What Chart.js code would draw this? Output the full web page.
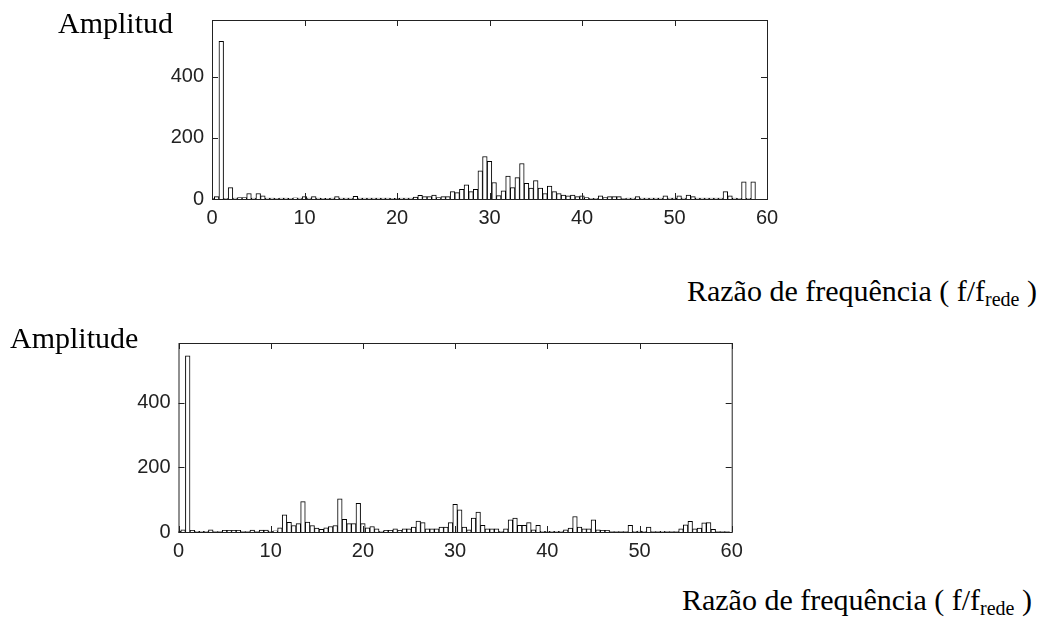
<!DOCTYPE html>
<html>
<head>
<meta charset="utf-8">
<script src="https://cdn.jsdelivr.net/npm/chart.js@4.4.1/dist/chart.umd.min.js"></script>
<style>
  html, body { margin: 0; padding: 0; background: #fff; }
  #page { position: relative; width: 1045px; height: 618px; overflow: hidden; }
  canvas { position: absolute; left: 0; }
  .lbl { position: absolute; font-family: 'Liberation Serif', 'Times New Roman', serif; font-size: 30px; color: #000; white-space: nowrap; line-height: 1; z-index: 2; }
  .lbl sub { font-size: 20px; vertical-align: -5px; line-height: 0; }
</style>
</head>
<body>
<div id="page">
  <canvas id="topChart" width="1045" height="239" style="top:0"></canvas>
  <canvas id="bottomChart" width="1045" height="252" style="top:320px"></canvas>
  <div class="lbl" style="left:58px; top:8px">Amplitud</div>
  <div class="lbl" style="right:8px; top:276px">Razão de frequência ( f/f<sub>rede</sub> )</div>
  <div class="lbl" style="left:10px; top:323px">Amplitude</div>
  <div class="lbl" style="right:13px; top:585px">Razão de frequência ( f/f<sub>rede</sub> )</div>
</div>

<script>
// harmonic order (f / f_rede), one bin every 0.5
const ratios = Array.from({ length: 120 }, (_, i) => i / 2);

const xTicks = [0, 10, 20, 30, 40, 50, 60];
const yTicks = [0, 200, 400];
const yMax = 585;

// upper spectrum
const amplitudeTop = [
  2, 8, 515, 2, 37, 3, 5, 5, 18, 3,
  18, 10, 3, 3, 2, 3, 3, 2, 4, 3,
  8, 3, 8, 3, 2, 2, 3, 8, 3, 3,
  3, 9, 3, 3, 3, 3, 3, 3, 3, 2,
  2, 3, 3, 3, 6, 12, 8, 8, 13, 5,
  8, 8, 24, 21, 32, 46, 24, 32, 92, 139,
  123, 54, 11, 27, 75, 37, 70, 116, 51, 36,
  60, 36, 18, 42, 24, 18, 13, 10, 13, 8,
  10, 5, 2, 2, 10, 5, 8, 8, 8, 1,
  3, 3, 8, 3, 3, 3, 3, 3, 10, 3,
  3, 10, 3, 13, 8, 3, 3, 3, 3, 3,
  3, 24, 10, 3, 2, 56, 2, 56, 0, 0
];

// lower spectrum
const amplitudeBottom = [
  2, 7, 545, 5, 2, 2, 2, 7, 1, 1,
  5, 5, 5, 5, 1, 1, 6, 1, 6, 6,
  2, 4, 13, 53, 30, 20, 26, 94, 31, 20,
  12, 8, 13, 17, 20, 103, 39, 26, 26, 89,
  26, 13, 17, 10, 2, 5, 5, 10, 5, 10,
  10, 15, 34, 29, 10, 10, 10, 15, 15, 29,
  86, 69, 15, 7, 43, 62, 21, 10, 10, 10,
  2, 10, 38, 43, 21, 21, 29, 7, 21, 2,
  2, 2, 2, 2, 7, 12, 48, 15, 10, 10,
  38, 7, 5, 5, 1, 1, 1, 1, 21, 2,
  3, 2, 15, 1, 1, 2, 1, 1, 1, 10,
  22, 33, 10, 12, 28, 29, 8, 1, 1, 1
];

const tickFont = { family: "'Liberation Sans Narrow', 'Liberation Sans', Arial, sans-serif", size: 20 };

// MATLAB-style box with inward ticks on all four sides
const boxAxes = {
  id: 'boxAxes',
  afterDatasetsDraw(chart) {
    const { ctx, chartArea: a, scales } = chart;
    const len = 6;
    ctx.save();
    ctx.strokeStyle = '#222';
    ctx.lineWidth = 1;
    ctx.strokeRect(a.left + 0.5, a.top + 0.5, a.right - a.left, a.bottom - a.top);
    ctx.beginPath();
    xTicks.forEach(v => {
      const px = Math.round(scales.x.getPixelForValue(v)) + 0.5;
      ctx.moveTo(px, a.bottom); ctx.lineTo(px, a.bottom - len);
      ctx.moveTo(px, a.top); ctx.lineTo(px, a.top + len);
    });
    yTicks.forEach(v => {
      const py = Math.round(scales.y.getPixelForValue(v)) + 0.5;
      ctx.moveTo(a.left, py); ctx.lineTo(a.left + len, py);
      ctx.moveTo(a.right, py); ctx.lineTo(a.right - len, py);
    });
    ctx.stroke();
    ctx.restore();
  }
};

function makeSpectrum(canvasId, values, pad) {
  const ctx = document.getElementById(canvasId).getContext('2d');
  return new Chart(ctx, {
    type: 'bar',
    data: {
      datasets: [{
        data: ratios.map((r, i) => ({ x: r, y: values[i] })),
        backgroundColor: '#fff',
        borderColor: '#000',
        borderWidth: 1,
        barPercentage: 1,
        categoryPercentage: 1
      }]
    },
    options: {
      responsive: false,
      animation: false,
      devicePixelRatio: 1,
      layout: { padding: pad },
      plugins: { legend: { display: false }, tooltip: { enabled: false } },
      scales: {
        x: {
          type: 'linear',
          min: 0,
          max: 60,
          offset: false,
          grid: { display: false, drawTicks: false, offset: false },
          border: { display: false },
          afterBuildTicks: s => { s.ticks = xTicks.map(v => ({ value: v })); },
          afterFit: s => { s.height = 40; },
          ticks: { font: tickFont, color: '#222', padding: 7, maxRotation: 0 }
        },
        y: {
          min: 0,
          max: yMax,
          grid: { display: false, drawTicks: false },
          border: { display: false },
          afterBuildTicks: s => { s.ticks = yTicks.map(v => ({ value: v })); },
          afterFit: s => { s.width = 50; },
          ticks: { font: tickFont, color: '#222', padding: 8 }
        }
      }
    },
    plugins: [boxAxes]
  });
}

makeSpectrum('topChart', amplitudeTop, { left: 162, right: 278, top: 9, bottom: 0 });
makeSpectrum('bottomChart', amplitudeBottom, { left: 128.5, right: 313.3, top: 23, bottom: 0 });
</script>
</body>
</html>
